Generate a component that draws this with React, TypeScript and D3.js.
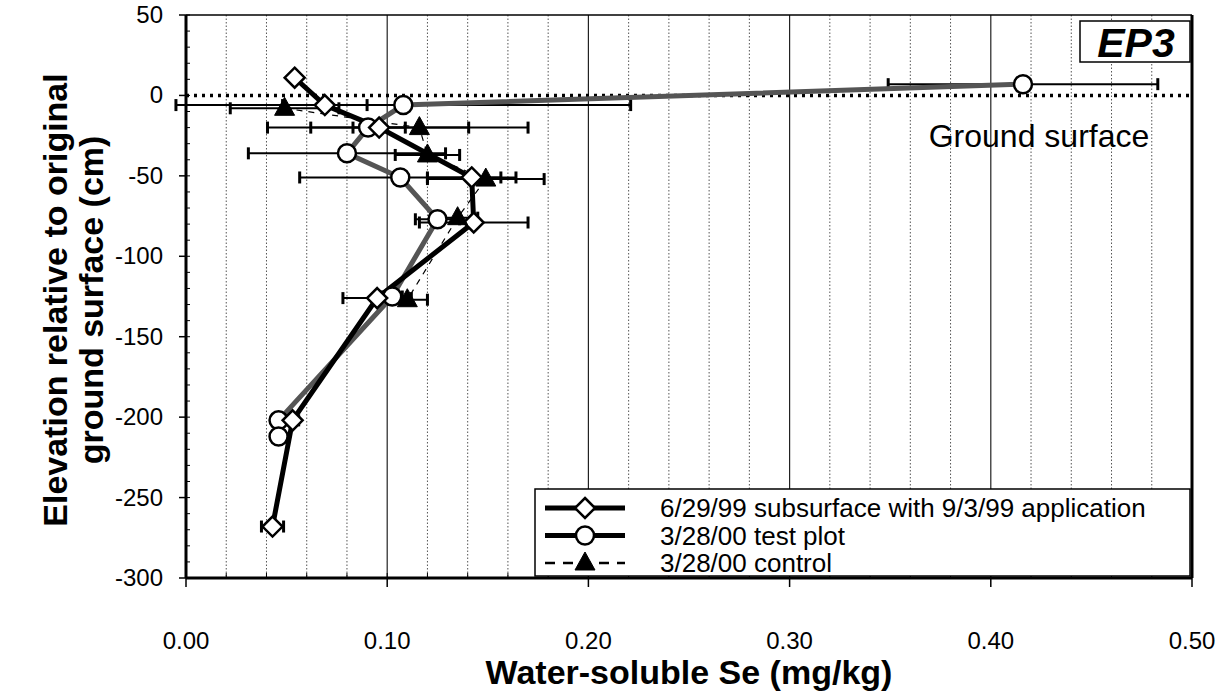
import React from 'react';
import * as d3 from 'd3';

// ---- data ----
const xTickValues = [0, 0.1, 0.2, 0.3, 0.4, 0.5];
const xTickLabels = ['0.00', '0.10', '0.20', '0.30', '0.40', '0.50'];
const yTickValues = [50, 0, -50, -100, -150, -200, -250, -300];

const diamondSe = [0.054, 0.069, 0.096, 0.142, 0.143, 0.095, 0.053, 0.043];
const diamondElev = [11, -6, -20, -51, -79, -126, -202, -268];
const diamondErr = [0, 0.021, 0.013, 0.022, 0.027, 0.017, 0.003, 0.0055];

const circleSe = [0.416, 0.108, 0.0905, 0.080, 0.1065, 0.125, 0.1025, 0.046, 0.046];
const circleElev = [7, -6, -20, -36, -51, -77, -125, -202, -212];
const circleErr = [0.067, 0.113, 0.05, 0.049, 0.05, 0.011, 0.005, 0.003, 0.003];

const triSe = [0.049, 0.116, 0.12, 0.149, 0.135, 0.11];
const triElev = [-8, -20, -37, -52, -76, -127];
const triErr = [0.027, 0.054, 0.016, 0.029, 0.01, 0.01];

const legendLabels = [
  '6/29/99 subsurface with 9/3/99 application',
  '3/28/00 test plot',
  '3/28/00 control',
];

const W = 1224;
const H = 691;
const FONT = '"Liberation Sans", Arial, Helvetica, sans-serif';

const x = d3.scaleLinear().domain([0, 0.5]).range([186, 1192]);
const y = d3.scaleLinear().domain([-300, 50]).range([578, 15]);

type P = { se: number; el: number; err: number };
const zip = (a: number[], b: number[], c: number[]): P[] => a.map((v, i) => ({ se: v, el: b[i], err: c[i] }));

const s1 = zip(diamondSe, diamondElev, diamondErr);
const s2 = zip(circleSe, circleElev, circleErr);
const s3 = zip(triSe, triElev, triErr);

const line = d3.line<P>().x((d) => x(d.se)).y((d) => y(d.el));

const Diamond = ({ cx, cy }: { cx: number; cy: number }) => (
  <path d={`M${cx},${cy - 10}L${cx + 10},${cy}L${cx},${cy + 10}L${cx - 10},${cy}Z`} fill="#fff" stroke="#000" strokeWidth={2.5} />
);
const Circle = ({ cx, cy }: { cx: number; cy: number }) => (
  <circle cx={cx} cy={cy} r={9} fill="#fff" stroke="#000" strokeWidth={2.5} />
);
const Tri = ({ cx, cy }: { cx: number; cy: number }) => (
  <path d={`M${cx},${cy - 11}L${cx + 10},${cy + 7}L${cx - 10},${cy + 7}Z`} fill="#000" stroke="#000" strokeWidth={1} />
);

const ErrBars = ({ data }: { data: P[] }) => (
  <g stroke="#000">
    {data.filter((d) => d.err > 0).map((d, i) => {
      const yy = y(d.el);
      const x0 = x(d.se - d.err);
      const x1 = x(d.se + d.err);
      return (
        <g key={i}>
          <line x1={x0} x2={x1} y1={yy} y2={yy} strokeWidth={2} />
          <line x1={x0} x2={x0} y1={yy - 6} y2={yy + 6} strokeWidth={3} />
          <line x1={x1} x2={x1} y1={yy - 6} y2={yy + 6} strokeWidth={3} />
        </g>
      );
    })}
  </g>
);

export default function App() {
  const minorX = d3.range(0, 0.5001, 0.02);
  const minorY = d3.range(-300, 50.001, 10);
  const rowY = [508, 535.5, 563];
  return (
    <svg width={W} height={H} style={{ position: 'absolute', left: 0, top: 0, background: '#fff' }} fontFamily={FONT}>
      <rect x={0} y={0} width={W} height={H} fill="#fff" />
      {/* grid */}
      {minorX.map((v, i) => {
        const major = Math.abs((v * 10) - Math.round(v * 10)) < 1e-6;
        if (v === 0 || v > 0.499) return null;
        return (
          <line key={i} x1={x(v)} x2={x(v)} y1={y(50)} y2={y(-300)}
            stroke={major ? '#222' : '#555'} strokeWidth={major ? 1.2 : 1}
            strokeDasharray={major ? undefined : '1.5,2'} />
        );
      })}
      {/* ground surface dotted line */}
      <line x1={x(0)} x2={x(0.5)} y1={y(0)} y2={y(0)} stroke="#000" strokeWidth={3.5} strokeDasharray="3,5" />
      {/* frame */}
      <line x1={x(0)} x2={x(0.5)} y1={y(50)} y2={y(50)} stroke="#000" strokeWidth={1.5} />
      <line x1={x(0.5)} x2={x(0.5)} y1={y(50)} y2={y(-300)} stroke="#000" strokeWidth={3} />
      <line x1={x(0)} x2={x(0)} y1={y(50)} y2={y(-300)} stroke="#000" strokeWidth={3} />
      <line x1={x(0)} x2={x(0.5)} y1={y(-300)} y2={y(-300)} stroke="#000" strokeWidth={3} />
      {/* minor ticks */}
      {minorX.map((v, i) => (
        <line key={'mx' + i} x1={x(v)} x2={x(v)} y1={y(-300)} y2={y(-300) - 5} stroke="#000" strokeWidth={1} />
      ))}
      {xTickValues.map((v, i) => (
        <line key={'tx' + i} x1={x(v)} x2={x(v)} y1={y(-300)} y2={y(-300) + 9} stroke="#000" strokeWidth={1.5} />
      ))}
      {minorY.map((v, i) => (
        <line key={'my' + i} x1={x(0)} x2={x(0) + 4} y1={y(v)} y2={y(v)} stroke="#000" strokeWidth={1} />
      ))}
      {yTickValues.map((v, i) => (
        <line key={'ty' + i} x1={x(0) - 7} x2={x(0)} y1={y(v)} y2={y(v)} stroke="#000" strokeWidth={1.5} />
      ))}
      {/* tick labels */}
      {xTickValues.map((v, i) => (
        <text key={'lx' + i} x={x(v)} y={649} fontSize={24} textAnchor="middle">{xTickLabels[i]}</text>
      ))}
      {yTickValues.map((v, i) => (
        <text key={'ly' + i} x={163} y={y(v) + 8} fontSize={24} textAnchor="end">{v}</text>
      ))}
      {/* axis titles */}
      <text x={689} y={684} fontSize={34} fontWeight="bold" textAnchor="middle">Water-soluble Se (mg/kg)</text>
      <g transform="translate(67,300) rotate(-90)">
        <text x={0} y={0} fontSize={34} fontWeight="bold" textAnchor="middle">Elevation relative to original</text>
        <text x={0} y={36} fontSize={34} fontWeight="bold" textAnchor="middle">ground surface (cm)</text>
      </g>
      {/* error bars */}
      <ErrBars data={s1} />
      <ErrBars data={s2} />
      <ErrBars data={s3} />
      {/* lines */}
      <path d={line(s3) || ''} fill="none" stroke="#000" strokeWidth={1.2} strokeDasharray="6,6" />
      <path d={line(s2) || ''} fill="none" stroke="#555" strokeWidth={5} />
      <path d={line(s1) || ''} fill="none" stroke="#000" strokeWidth={5} />
      {/* markers */}
      {s2.map((d, i) => <Circle key={'c' + i} cx={x(d.se)} cy={y(d.el)} />)}
      {s1.map((d, i) => <Diamond key={'d' + i} cx={x(d.se)} cy={y(d.el)} />)}
      {s3.map((d, i) => <Tri key={'t' + i} cx={x(d.se)} cy={y(d.el)} />)}
      {/* annotations */}
      <text x={1039} y={147} fontSize={32} textAnchor="middle">Ground surface</text>
      <rect x={1080} y={21} width={110} height={41} fill="#fff" stroke="#000" strokeWidth={1.5} />
      <text x={1136} y={57} fontSize={41} fontWeight="bold" fontStyle="italic" textAnchor="middle">EP3</text>
      {/* legend */}
      <rect x={535} y={489} width={655} height={87} fill="#fff" stroke="#000" strokeWidth={1.5} />
      <g>
        <line x1={545} x2={625} y1={rowY[0]} y2={rowY[0]} stroke="#000" strokeWidth={5} />
        <Diamond cx={585} cy={rowY[0]} />
        <line x1={545} x2={625} y1={rowY[1]} y2={rowY[1]} stroke="#000" strokeWidth={5} />
        <Circle cx={585} cy={rowY[1]} />
        <line x1={545} x2={625} y1={rowY[2]} y2={rowY[2]} stroke="#000" strokeWidth={2.5} strokeDasharray="10,8" />
        <Tri cx={585} cy={rowY[2]} />
        {legendLabels.map((t, i) => (
          <text key={'lg' + i} x={660} y={rowY[i] + 9} fontSize={26}>{t}</text>
        ))}
      </g>
    </svg>
  );
}
